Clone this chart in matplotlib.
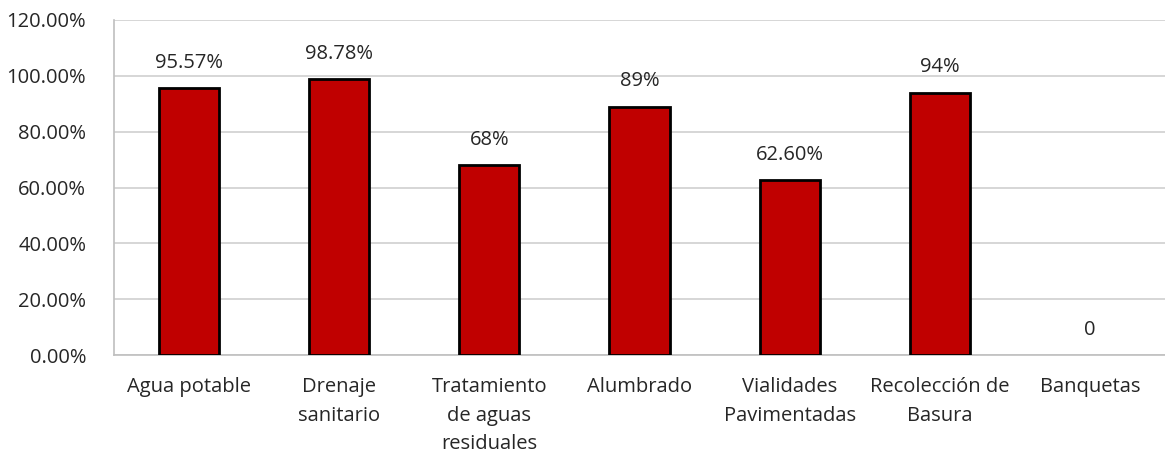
import matplotlib.pyplot as plt
import numpy as np

categorias = ['Agua potable', 'Drenaje\nsanitario', 'Tratamiento\nde aguas\nresiduales',
              'Alumbrado', 'Vialidades\nPavimentadas', 'Recolección de\nBasura', 'Banquetas']
valores = [95.57, 98.78, 68, 89, 62.60, 94, 0]
etiquetas = ['95.57%', '98.78%', '68%', '89%', '62.60%', '94%', '0']
ticks_y = [0, 20, 40, 60, 80, 100, 120]

plt.rcParams['font.family'] = ['Open Sans', 'DejaVu Sans']
fs = 14.5

fig = plt.figure(figsize=(11.65, 4.54), dpi=100)
ax = fig.add_axes([0.0979, 0.218, 0.9021, 0.738])

x = np.arange(len(categorias))
# sin borde para la barra en cero
anchos = [2 if v > 0 else 0 for v in valores]
ax.bar(x, valores, width=0.4, color='#C00000', edgecolor='black', linewidth=anchos, zorder=3)

for xi, v, t in zip(x, valores, etiquetas):
    ax.text(xi, v + 5.5, t, ha='center', va='bottom', fontsize=fs, color='#262626')

ax.set_xlim(-0.5, len(categorias) - 0.5)
ax.set_ylim(0, 120)
ax.set_yticks(ticks_y)
ax.set_yticklabels(['%.2f%%' % t for t in ticks_y], fontsize=fs, color='#262626')
ax.set_xticks(x)
ax.set_xticklabels(categorias, fontsize=fs, color='#262626', va='top', linespacing=1.55)
ax.tick_params(axis='y', length=0, pad=20)
ax.tick_params(axis='x', length=0, pad=16)

ax.grid(axis='y', color='#D0D0D0', linewidth=1.2, zorder=0)
for s in ['top', 'right']:
    ax.spines[s].set_visible(False)
ax.spines['left'].set_color('#BFBFBF')
ax.spines['bottom'].set_color('#BFBFBF')
ax.spines['left'].set_linewidth(1.2)
ax.spines['bottom'].set_linewidth(1.2)

fig.savefig('out.png', dpi=100)
